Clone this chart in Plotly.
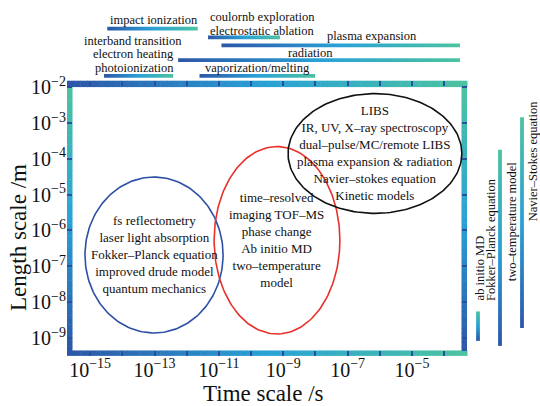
import numpy as np
import plotly.graph_objects as go

W, H = 540, 406
FL, FR, FT, FB = 67, 467, 75, 355  # frame edges in px

# ---------------- data ----------------
time_tick_exp = list(range(-15, -3))          # x ticks (s)
length_tick_exp = list(range(-9, -1))         # y ticks (m)

process_names = ["impact ionization", "electrostatic ablation", "plasma expansion",
                 "radiation", "photoionization", "vaporization/melting"]
process_t_start = [3.4e-15, 4.6e-12, 1.2e-11, 5.4e-13, 2.7e-15, 2.5e-12]
process_t_end = [2.2e-12, 7.9e-10, 3.1e-4, 3.1e-4, 3.8e-13, 9.8e-9]

method_names = ["ab initio MD", "Fokker–Planck equation", "two–temperature model"]
method_l_min = [8.3e-10, 6.0e-10, 1.9e-9]
method_l_max = [5.5e-9, 1.8e-4, 1.45e-3]

regime_t_min = [6.9e-16, 7.1e-12, 1.41e-9]
regime_t_max = [1.35e-11, 5.75e-8, 3.55e-4]
regime_l_min = [1.38e-9, 1.29e-9, 3.0e-6]
regime_l_max = [3.1e-5, 2.2e-4, 6.6e-3]
regime_texts = [
    ["fs reflectometry", "laser light absorption", "Fokker–Planck equation",
     "improved drude model", "quantum mechanics"],
    ["time–resolved", "imaging TOF–MS", "phase change", "Ab initio MD",
     "two–temperature", "model"],
    ["LIBS", "IR, UV, X–ray spectroscopy", "dual–pulse/MC/remote LIBS",
     "plasma expansion & radiation", "Navier–stokes equation", "Kinetic models"],
]

# ---------------- layout-only values ----------------
process_row_px = [22, 31, 39, 54, 70, 70]
method_col_px = [478, 500, 522]
top_labels = [("impact ionization", 154, 13), ("coulornb exploration", 262, 10),
              ("electrostatic ablation", 262, 24), ("plasma expansion", 372, 30),
              ("interband transition", 133, 35), ("radiation", 310, 47),
              ("electron heating", 133, 48), ("photoionization", 134, 62),
              ("vaporization/melting", 257, 62)]
side_labels = [("ab initio MD", 480, 266), ("Fokker–Planck equation", 491, 237),
               ("two–temperature model", 512, 218), ("Navier–Stokes equation", 533, 157)]
regime_colors = ["#2e4fa6", "#e8302a", "#111111"]

FONT = "Liberation Serif"
CS = [[0, "#2c56a7"], [0.5, "#29a2d6"], [1, "#4cc3a0"]]


def lerp_color(t):
    stops = [(0, (0x2c, 0x56, 0xa7)), (0.5, (0x29, 0xa2, 0xd6)), (1, (0x4c, 0xc3, 0xa0))]
    for (t0, c0), (t1, c1) in zip(stops[:-1], stops[1:]):
        if t <= t1:
            f = (t - t0) / (t1 - t0)
            c = [round(a + (b - a) * f) for a, b in zip(c0, c1)]
            return "rgb(%d,%d,%d)" % tuple(c)
    return "rgb(76,195,160)"


def px(x):
    return x / W


def py(y):
    return 1 - y / H


fig = go.Figure()

# top process bars (share the time axis)
for name, t0, t1, row in zip(process_names, process_t_start, process_t_end, process_row_px):
    fig.add_trace(go.Scatter(
        x=[t0, t1, t1, t0, t0], y=[row - 1.9, row - 1.9, row + 1.9, row + 1.9, row - 1.9],
        xaxis="x", yaxis="y2", mode="lines", fill="toself", line=dict(width=0),
        fillgradient=dict(type="horizontal", colorscale=CS), hoverinfo="skip", showlegend=False))

# right method bars (share the length axis)
for name, l0, l1, col in zip(method_names, method_l_min, method_l_max, method_col_px):
    fig.add_trace(go.Scatter(
        x=[col - 1.9, col + 1.9, col + 1.9, col - 1.9, col - 1.9], y=[l0, l0, l1, l1, l0],
        xaxis="x2", yaxis="y", mode="lines", fill="toself", line=dict(width=0),
        fillgradient=dict(type="vertical", colorscale=CS), hoverinfo="skip", showlegend=False))

# regime ellipses (outline in log space through the regime bounds)
theta = np.linspace(0, 2 * np.pi, 181)
for t0, t1, l0, l1, c in zip(regime_t_min, regime_t_max, regime_l_min, regime_l_max, regime_colors):
    cx, rx = (np.log10(t0) + np.log10(t1)) / 2, (np.log10(t1) - np.log10(t0)) / 2
    cy, ry = (np.log10(l0) + np.log10(l1)) / 2, (np.log10(l1) - np.log10(l0)) / 2
    fig.add_trace(go.Scatter(x=10 ** (cx + rx * np.cos(theta)), y=10 ** (cy + ry * np.sin(theta)),
                             mode="lines", line=dict(color=c, width=1.6),
                             hoverinfo="skip", showlegend=False))

shapes = []
# gradient frame bands
N = 60
BW = 5.5
for i in range(N):
    a, b = i / N, (i + 1) / N
    shapes.append(dict(type="rect", xref="paper", yref="paper", layer="below",
                       x0=px(FL + a * (FR - FL)), x1=px(FL + b * (FR - FL) + 0.5),
                       y0=py(FT + 6.5), y1=py(FT), fillcolor=lerp_color((a + b) / 2), line=dict(width=0)))
    shapes.append(dict(type="rect", xref="paper", yref="paper", layer="below",
                       x0=px(FL + a * (FR - FL)), x1=px(FL + b * (FR - FL) + 0.5),
                       y0=py(FB), y1=py(FB - BW), fillcolor=lerp_color((a + b) / 2), line=dict(width=0)))
    ya = FT + 6.5 + a * (FB - BW - FT - 6.5)
    yb = FT + 6.5 + b * (FB - BW - FT - 6.5) + 0.5
    for xa, xb in [(FL, FL + BW), (FR - BW, FR)]:
        shapes.append(dict(type="rect", xref="paper", yref="paper", layer="below",
                           x0=px(xa), x1=px(xb), y0=py(yb), y1=py(ya),
                           fillcolor=lerp_color(1 - (a + b) / 2), line=dict(width=0)))

annotations = []
for t0, t1, l0, l1, lines in zip(regime_t_min, regime_t_max, regime_l_min, regime_l_max, regime_texts):
    annotations.append(dict(xref="x", yref="y",
                            x=(np.log10(t0) + np.log10(t1)) / 2, y=(np.log10(l0) + np.log10(l1)) / 2,
                            text="<br>".join(lines), showarrow=False, align="center",
                            font=dict(family=FONT, size=13, color="#111")))
for text, cx, cy in top_labels:
    annotations.append(dict(xref="paper", yref="paper", x=px(cx), y=py(cy), text=text,
                            showarrow=False, xanchor="center", yanchor="middle",
                            font=dict(family=FONT, size=12.5, color="#111")))
for text, cx, cy in side_labels:
    annotations.append(dict(xref="paper", yref="paper", x=px(cx), y=py(cy), text=text,
                            showarrow=False, xanchor="center", yanchor="middle", textangle=-90,
                            font=dict(family=FONT, size=12.5, color="#111")))
annotations.append(dict(xref="paper", yref="paper", x=px(263), y=py(393), text="Time scale /s",
                        showarrow=False, xanchor="center", yanchor="middle",
                        font=dict(family=FONT, size=23, color="#111")))
annotations.append(dict(xref="paper", yref="paper", x=px(19), y=py(235), text="Length scale /m",
                        showarrow=False, xanchor="center", yanchor="middle", textangle=-90,
                        font=dict(family=FONT, size=23, color="#111")))

x_tickvals = [10.0 ** e for e in time_tick_exp]
x_ticktext = ["10<sup>−%d</sup>" % -e if e % 2 else "" for e in time_tick_exp]
y_tickvals = [10.0 ** e for e in length_tick_exp]
y_ticktext = ["10<sup>−%d</sup>" % -e for e in length_tick_exp]

fig.update_layout(
    width=W, height=H, margin=dict(l=0, r=0, t=0, b=0),
    paper_bgcolor="white", plot_bgcolor="rgba(0,0,0,0)",
    showlegend=False,
    xaxis=dict(type="log", range=[-15.72, -3.29], domain=[px(FL), px(FR)], anchor="y",
               tickvals=x_tickvals, ticktext=x_ticktext, ticks="inside", ticklen=5,
               tickwidth=1.5, tickcolor="#2a4f9c", mirror="ticks", showgrid=False,
               zeroline=False, showline=False, tickfont=dict(family=FONT, size=20, color="#111")),
    yaxis=dict(type="log", range=[-9.5, -1.82], domain=[py(FB), py(FT)], anchor="x",
               tickvals=y_tickvals, ticktext=y_ticktext, ticks="inside", ticklen=5,
               tickwidth=1.5, tickcolor="#2a4f9c", mirror="ticks", showgrid=False,
               zeroline=False, showline=False, tickfont=dict(family=FONT, size=20, color="#111")),
    yaxis2=dict(domain=[py(FT), 1], range=[FT, 0], anchor="x", visible=False),
    xaxis2=dict(domain=[px(FR), 1], range=[FR, W], anchor="y", visible=False),
    shapes=shapes, annotations=annotations,
)

fig.write_html("out.html", config={"displayModeBar": False},
               post_script="document.body.style.margin='0';")
